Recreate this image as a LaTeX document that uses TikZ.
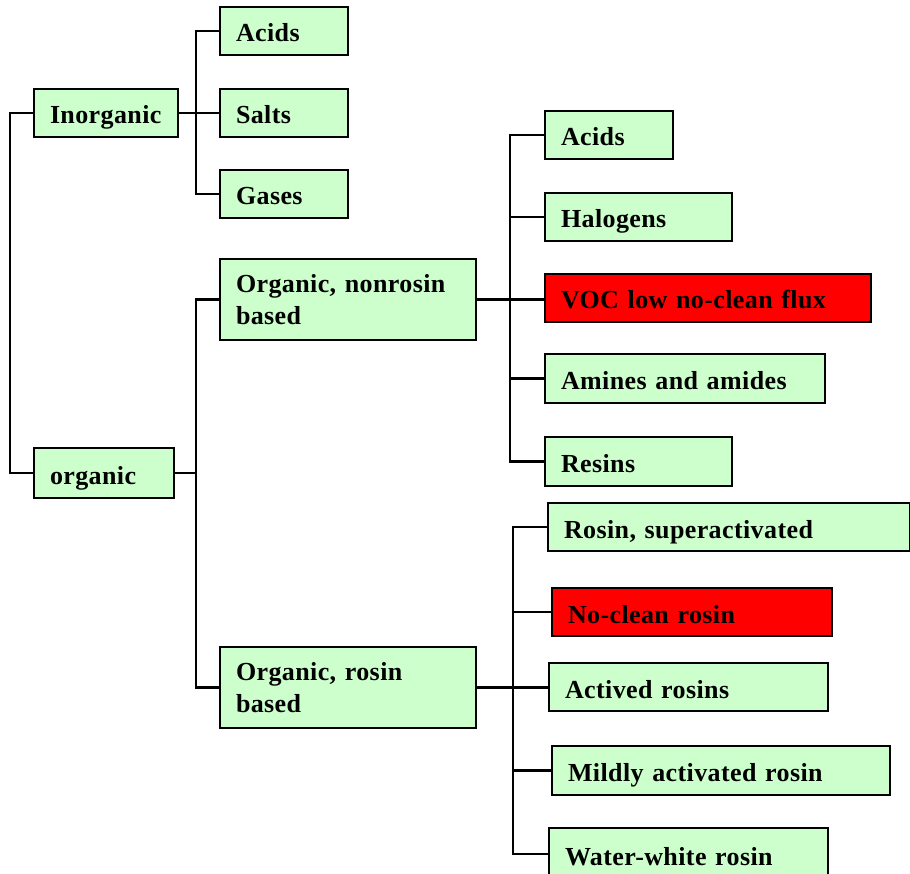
\documentclass[tikz,border=0pt]{standalone}
\usepackage{fontspec}
\setmainfont[LetterSpace=1.5]{Liberation Serif}
\definecolor{boxgreen}{HTML}{CCFFCC}
\definecolor{boxred}{HTML}{FF0000}
\newcommand\mkbox[7]{%
  \pgfmathsetmacro\bxw{#4-#2}%
  \pgfmathsetmacro\bxh{#5-#3}%
  \pgfmathsetmacro\bxt{#4-#2-32}%
  \node[cbox,#6,minimum width=\bxw pt,minimum height=\bxh pt,text width=\bxt pt] (#1) at (#2,#3) {#7};}
\begin{document}
\begin{tikzpicture}[x=1pt,y=-1pt,
  cbox/.style={draw=black, line width=2pt, rectangle, anchor=north west,
    inner xsep=16pt, inner ysep=0pt, align=left,
    font=\fontsize{26}{32}\selectfont\bfseries},
  oneline/.style={text height=27pt, text depth=5pt},
  gbox/.style={fill=boxgreen, oneline},
  rbox/.style={fill=boxred, oneline},
  gtwo/.style={fill=boxgreen},
  conn/.style={draw=black, line width=2.2pt}]
\clip (0,0) rectangle (910,874);
\fill[white] (0,0) rectangle (910,874);
% boxes
\mkbox{inorg}{33}{88}{177}{136}{gbox}{Inorganic}
\mkbox{acidsA}{219}{6}{347}{54}{gbox}{Acids}
\mkbox{salts}{219}{88}{347}{136}{gbox}{Salts}
\mkbox{gases}{219}{169}{347}{217}{gbox}{Gases}
\mkbox{org}{33}{447}{173}{497}{gbox}{organic}
\mkbox{nonrosin}{219}{258}{475}{339}{gtwo}{Organic, nonrosin\\based}
\mkbox{rosin}{219}{646}{475}{727}{gtwo}{Organic, rosin\\based}
\mkbox{acidsB}{544}{110}{672}{158}{gbox}{Acids}
\mkbox{halogens}{544}{192}{731}{240}{gbox}{Halogens}
\mkbox{voc}{544}{273}{870}{321}{rbox}{VOC low no-clean flux}
\mkbox{amines}{544}{353}{824}{402}{gbox}{Amines and amides}
\mkbox{resins}{544}{436}{731}{485}{gbox}{Resins}
\mkbox{superact}{547}{502}{909}{550}{gbox}{Rosin, superactivated}
\mkbox{noclean}{551}{587}{831}{635}{rbox}{No-clean rosin}
\mkbox{actived}{548}{662}{827}{710}{gbox}{Actived rosins}
\mkbox{mildly}{551}{745}{889}{794}{gbox}{Mildly activated rosin}
\mkbox{water}{548}{827}{827}{879}{gbox}{Water-white rosin}
% junction points
\coordinate (root) at (10,300);
\coordinate (tA) at (196,112);
\coordinate (tB) at (196,471);
\coordinate (tC) at (510,298.5);
\coordinate (tD) at (513,686.5);
% connectors
\draw[conn] (inorg.west) -| (root) |- (org.west);
\draw[conn] (inorg.east) -- (salts.west);
\draw[conn] (acidsA.west) -| (tA) |- (gases.west);
\draw[conn] (org.east) -- (org.east -| tB);
\draw[conn] (nonrosin.west) -| (tB) |- (rosin.west);
\draw[conn] (nonrosin.east) -- (nonrosin.east -| voc.west);
\draw[conn] (acidsB.west) -| (tC) |- (resins.west);
\draw[conn] (halogens.west) -- (halogens.west -| tC);
\draw[conn] (amines.west) -- (amines.west -| tC);
\draw[conn] (rosin.east) -- (rosin.east -| actived.west);
\draw[conn] (superact.west) -| (tD) |- (water.west);
\draw[conn] (noclean.west) -- (noclean.west -| tD);
\draw[conn] (mildly.west) -- (mildly.west -| tD);
\end{tikzpicture}
\end{document}
